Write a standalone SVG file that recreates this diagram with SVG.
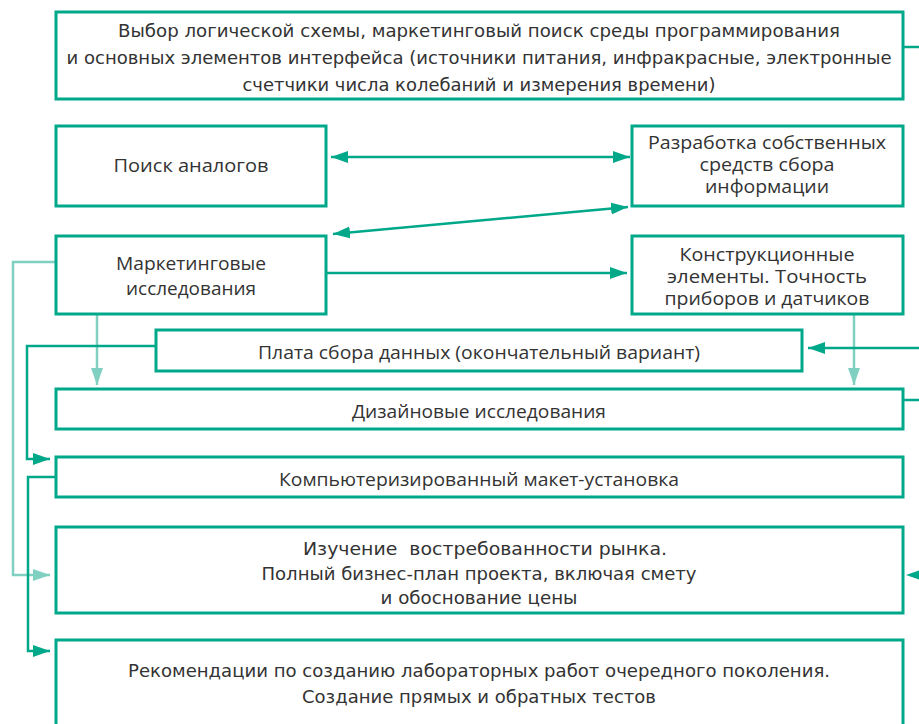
<svg xmlns="http://www.w3.org/2000/svg" width="919" height="724" viewBox="0 0 919 724">
<style>
.box{fill:#fff;stroke:#00a88a;stroke-width:3}
.t{font-family:"Open Sans","Noto Sans","DejaVu Sans",sans-serif;font-size:19px;fill:#333;text-anchor:middle}
.s{font-size:17.5px}
.c{font-family:"Liberation Sans Narrow","DejaVu Sans Condensed","Liberation Sans",sans-serif;font-stretch:condensed;font-size:18px;fill:#333;text-anchor:middle}
.d{fill:none;stroke:#00a88a;stroke-width:2.5}
.l{fill:none;stroke:#80d0c1;stroke-width:2.5}
</style>
<defs>
<marker id="ad" markerUnits="userSpaceOnUse" markerWidth="18" markerHeight="13" refX="17" refY="6" orient="auto-start-reverse"><path d="M0,0 L17,6 L0,12 z" fill="#00a88a"/></marker>
<marker id="al" markerUnits="userSpaceOnUse" markerWidth="18" markerHeight="13" refX="17" refY="6" orient="auto-start-reverse"><path d="M0,0 L17,6 L0,12 z" fill="#80d0c1"/></marker>
</defs>
<rect width="919" height="724" fill="#fff"/>
<g id="connectors">
<path class="d" d="M903,47 H919"/>
<path class="d" d="M331,157 H630" marker-start="url(#ad)" marker-end="url(#ad)"/>
<path class="d" d="M333,234 L628,207" marker-start="url(#ad)" marker-end="url(#ad)"/>
<path class="d" d="M326,273 H627" marker-end="url(#ad)"/>
<path class="l" d="M56,262 H13 V575 H50" marker-end="url(#al)"/>
<path class="l" d="M97,314 V385" marker-end="url(#al)"/>
<path class="l" d="M854,314 V385" marker-end="url(#al)"/>
<path class="d" d="M156,346 H27 V459 H50" marker-end="url(#ad)"/>
<path class="d" d="M56,477 H28 V651 H50" marker-end="url(#ad)"/>
<path class="d" d="M919,348 H808" marker-end="url(#ad)"/>
<path class="d" d="M903,400 H919"/>
<path d="M906,575 L923,569 L923,581 z" fill="#00a88a"/>
</g>
<g id="n-top">
<rect class="box" x="56" y="12" width="847" height="87"/>
<text class="c" x="479" y="37" textLength="722" lengthAdjust="spacingAndGlyphs">Выбор логической схемы, маркетинговый поиск среды программирования</text>
<text class="c" x="479" y="64" textLength="825" lengthAdjust="spacingAndGlyphs">и основных элементов интерфейса (источники питания, инфракрасные, электронные</text>
<text class="c" x="479" y="91" textLength="473" lengthAdjust="spacingAndGlyphs">счетчики числа колебаний и измерения времени)</text>
</g>
<g id="n-poisk">
<rect class="box" x="56" y="126" width="270" height="80"/>
<text class="t" x="191" y="172" textLength="155" lengthAdjust="spacingAndGlyphs">Поиск аналогов</text>
</g>
<g id="n-razrab">
<rect class="box" x="632" y="126" width="271" height="80"/>
<text class="t s" x="767" y="149" textLength="238" lengthAdjust="spacingAndGlyphs">Разработка собственных</text>
<text class="t s" x="767" y="171" textLength="135" lengthAdjust="spacingAndGlyphs">средств сбора</text>
<text class="t s" x="767" y="193" textLength="124" lengthAdjust="spacingAndGlyphs">информации</text>
</g>
<g id="n-market">
<rect class="box" x="56" y="236" width="270" height="78"/>
<text class="t" x="191" y="270" textLength="150" lengthAdjust="spacingAndGlyphs">Маркетинговые</text>
<text class="t" x="191" y="295" textLength="130" lengthAdjust="spacingAndGlyphs">исследования</text>
</g>
<g id="n-konstr">
<rect class="box" x="632" y="236" width="271" height="78"/>
<text class="t s" x="767" y="261" textLength="175" lengthAdjust="spacingAndGlyphs">Конструкционные</text>
<text class="t s" x="767" y="283" textLength="200" lengthAdjust="spacingAndGlyphs">элементы. Точность</text>
<text class="t s" x="767" y="305" textLength="205" lengthAdjust="spacingAndGlyphs">приборов и датчиков</text>
</g>
<g id="n-plata">
<rect class="box" x="156" y="330" width="646" height="41"/>
<text class="t" x="479" y="359" textLength="442" lengthAdjust="spacingAndGlyphs">Плата сбора данных (окончательный вариант)</text>
</g>
<g id="n-dizain">
<rect class="box" x="56" y="389" width="847" height="40"/>
<text class="t" x="479" y="418" textLength="254" lengthAdjust="spacingAndGlyphs">Дизайновые исследования</text>
</g>
<g id="n-komp">
<rect class="box" x="56" y="457" width="847" height="40"/>
<text class="t" x="479" y="486" textLength="400" lengthAdjust="spacingAndGlyphs">Компьютеризированный макет-установка</text>
</g>
<g id="n-izuch">
<rect class="box" x="56" y="527" width="847" height="86"/>
<text class="c" x="485" y="555" textLength="364" lengthAdjust="spacingAndGlyphs" xml:space="preserve" style="white-space:pre">Изучение  востребованности рынка.</text>
<text class="c" x="479" y="580" textLength="435" lengthAdjust="spacingAndGlyphs">Полный бизнес-план проекта, включая смету</text>
<text class="c" x="479" y="604" textLength="197" lengthAdjust="spacingAndGlyphs">и обоснование цены</text>
</g>
<g id="n-rekom">
<rect class="box" x="56" y="640" width="847" height="95"/>
<text class="c" x="479" y="677" textLength="702" lengthAdjust="spacingAndGlyphs">Рекомендации по созданию лабораторных работ очередного поколения.</text>
<text class="c" x="479" y="703" textLength="354" lengthAdjust="spacingAndGlyphs">Создание прямых и обратных тестов</text>
</g>
</svg>
